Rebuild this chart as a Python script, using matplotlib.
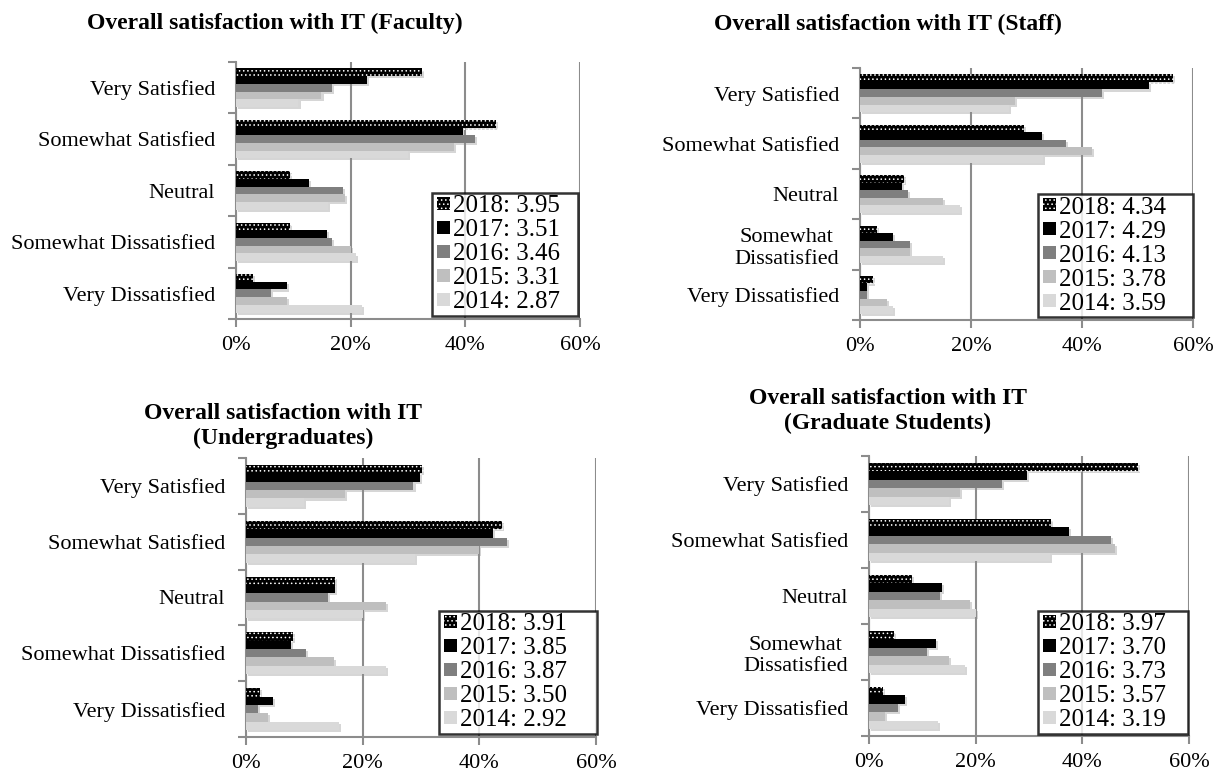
import matplotlib
matplotlib.use("Agg")
import matplotlib.pyplot as plt
import matplotlib.patheffects as pe
from matplotlib.container import BarContainer
from matplotlib.legend_handler import HandlerPatch, update_from_first_child
from matplotlib.patches import Rectangle
import numpy as np

plt.rcParams['font.family'] = ['Liberation Serif', 'DejaVu Serif']
plt.rcParams['hatch.linewidth'] = 0.6

categories = ["Very Satisfied", "Somewhat Satisfied", "Neutral",
              "Somewhat Dissatisfied", "Very Dissatisfied"]
categories_wrapped = ["Very Satisfied", "Somewhat Satisfied", "Neutral",
                      "Somewhat\nDissatisfied", "Very Dissatisfied"]
years = ["2018", "2017", "2016", "2015", "2014"]

faculty_2018 = [32.5, 45.3, 9.4, 9.4, 3.0]
faculty_2017 = [22.8, 39.6, 12.8, 15.8, 8.9]
faculty_2016 = [16.8, 41.6, 18.6, 16.8, 6.1]
faculty_2015 = [14.9, 38.0, 19.0, 20.0, 8.9]
faculty_2014 = [10.9, 30.0, 16.0, 21.0, 22.0]
faculty_means = ["3.95", "3.51", "3.46", "3.31", "2.87"]

staff_2018 = [56.4, 29.5, 8.0, 3.0, 2.4]
staff_2017 = [52.0, 32.8, 7.5, 6.0, 1.2]
staff_2016 = [43.6, 37.1, 8.7, 9.0, 1.2]
staff_2015 = [27.9, 41.8, 14.9, 9.0, 4.9]
staff_2014 = [26.9, 32.9, 18.0, 14.9, 5.9]
staff_means = ["4.34", "4.29", "4.13", "3.78", "3.59"]

ugrad_2018 = [30.1, 43.8, 15.3, 8.0, 2.4]
ugrad_2017 = [29.8, 42.4, 15.3, 7.7, 4.6]
ugrad_2016 = [28.7, 44.7, 14.0, 10.2, 2.1]
ugrad_2015 = [17.0, 40.0, 24.0, 15.0, 3.8]
ugrad_2014 = [9.9, 29.0, 20.0, 24.0, 16.0]
ugrad_means = ["3.91", "3.85", "3.87", "3.50", "2.92"]

grad_2018 = [50.4, 34.2, 8.0, 4.7, 2.6]
grad_2017 = [29.6, 37.5, 13.6, 12.5, 6.7]
grad_2016 = [25.0, 45.4, 13.3, 10.9, 5.4]
grad_2015 = [17.0, 46.1, 18.9, 15.0, 3.0]
grad_2014 = [15.0, 34.0, 20.0, 18.0, 13.0]
grad_means = ["3.97", "3.70", "3.73", "3.57", "3.19"]

x_ticks = [0, 20, 40, 60]
x_tick_labels = ["0%", "20%", "40%", "60%"]

colors = ["black", "black", "#7f7f7f", "#bfbfbf", "#d9d9d9"]

W, H = 1218, 773
fig = plt.figure(figsize=(W / 100, H / 100), dpi=100)

GRID = "#8c8c8c"


def inset_square(legend, orig_handle, xdescent, ydescent, width, height, fontsize):
    off = width - height
    return Rectangle((-xdescent + off, -ydescent), height, height)


handler = {BarContainer: HandlerPatch(patch_func=inset_square,
                                      update_func=update_from_first_child)}


def px_axes(l, t, r, b):
    return fig.add_axes([l / W, (H - b) / H, (r - l) / W, (b - t) / H])


def panel(box, series, means, labels, legend_box):
    ax = px_axes(*box)
    n = len(labels)
    y = np.arange(n)
    h = 0.15
    shadow = [pe.SimplePatchShadow(offset=(1.5, -1.5), shadow_rgbFace="0.55", alpha=0.35),
              pe.Normal()]
    for i, vals in enumerate(series):
        pos = y + (i - 2) * h
        if i == 0:
            bars = ax.barh(pos, vals, height=h, color="black", edgecolor="white",
                           hatch="....", linewidth=0, zorder=3,
                           label=f"{years[i]}: {means[i]}")
        else:
            bars = ax.barh(pos, vals, height=h, color=colors[i], linewidth=0,
                           zorder=3, label=f"{years[i]}: {means[i]}")
        for b in bars:
            b.set_path_effects(shadow)
    ax.set_xlim(0, 60)
    ax.set_ylim(n - 0.5, -0.5)
    ax.set_xticks(x_ticks)
    ax.set_xticklabels(x_tick_labels, fontsize=16)
    ax.set_yticks(y)
    ax.set_yticklabels(labels, fontsize=16)
    for t in ax.get_yticklabels():
        t.set_multialignment("center")
    ax.set_yticks(np.arange(n + 1) - 0.5, minor=True)
    ax.tick_params(axis="y", which="major", length=0, pad=15)
    ax.tick_params(axis="y", which="minor", length=6, color=GRID, width=1.5)
    ax.tick_params(axis="x", length=6, color=GRID, width=1.5, pad=6)
    ax.grid(axis="x", color=GRID, linewidth=1.5, zorder=1)
    ax.set_axisbelow(True)
    for s in ["top", "right"]:
        ax.spines[s].set_visible(False)
    for s in ["left", "bottom"]:
        ax.spines[s].set_color(GRID)
        ax.spines[s].set_linewidth(1.5)
    lx0, lx1, ly = legend_box
    leg = ax.legend(loc="lower left",
                    bbox_to_anchor=(lx0 / W, (H - ly) / H, (lx1 - lx0) / W, 0.01),
                    bbox_transform=fig.transFigure, mode="expand",
                    handler_map=handler,
                    fontsize=18, frameon=True, fancybox=False,
                    borderaxespad=0, handlelength=0.6, handleheight=0.42,
                    handletextpad=0.15, labelspacing=0.08, borderpad=0.1)
    leg.get_frame().set_edgecolor("black")
    leg.get_frame().set_linewidth(1.8)
    leg.set_zorder(10)
    for hnd in leg.legend_handles:
        hnd.set_path_effects([])
    return ax


panel((236, 62, 580, 319),
      [faculty_2018, faculty_2017, faculty_2016, faculty_2015, faculty_2014],
      faculty_means, categories, (432, 578, 316))
panel((860, 68, 1193, 320),
      [staff_2018, staff_2017, staff_2016, staff_2015, staff_2014],
      staff_means, categories_wrapped, (1038, 1193, 317))
panel((246, 458, 596, 737),
      [ugrad_2018, ugrad_2017, ugrad_2016, ugrad_2015, ugrad_2014],
      ugrad_means, categories, (439, 597, 734))
panel((869, 456, 1189, 736),
      [grad_2018, grad_2017, grad_2016, grad_2015, grad_2014],
      grad_means, categories_wrapped, (1038, 1188, 734))

tkw = dict(ha="center", va="baseline", fontsize=17, fontweight="bold")
fig.text(275 / W, 1 - 29 / H, "Overall satisfaction with IT (Faculty)", **tkw)
fig.text(888 / W, 1 - 30 / H, "Overall satisfaction with IT (Staff)", **tkw)
fig.text(283 / W, 1 - 419 / H, "Overall satisfaction with IT", **tkw)
fig.text(283 / W, 1 - 444 / H, "(Undergraduates)", **tkw)
fig.text(888 / W, 1 - 404 / H, "Overall satisfaction with IT", **tkw)
fig.text(888 / W, 1 - 429 / H, "(Graduate Students)", **tkw)

fig.savefig("out.png", dpi=100)
